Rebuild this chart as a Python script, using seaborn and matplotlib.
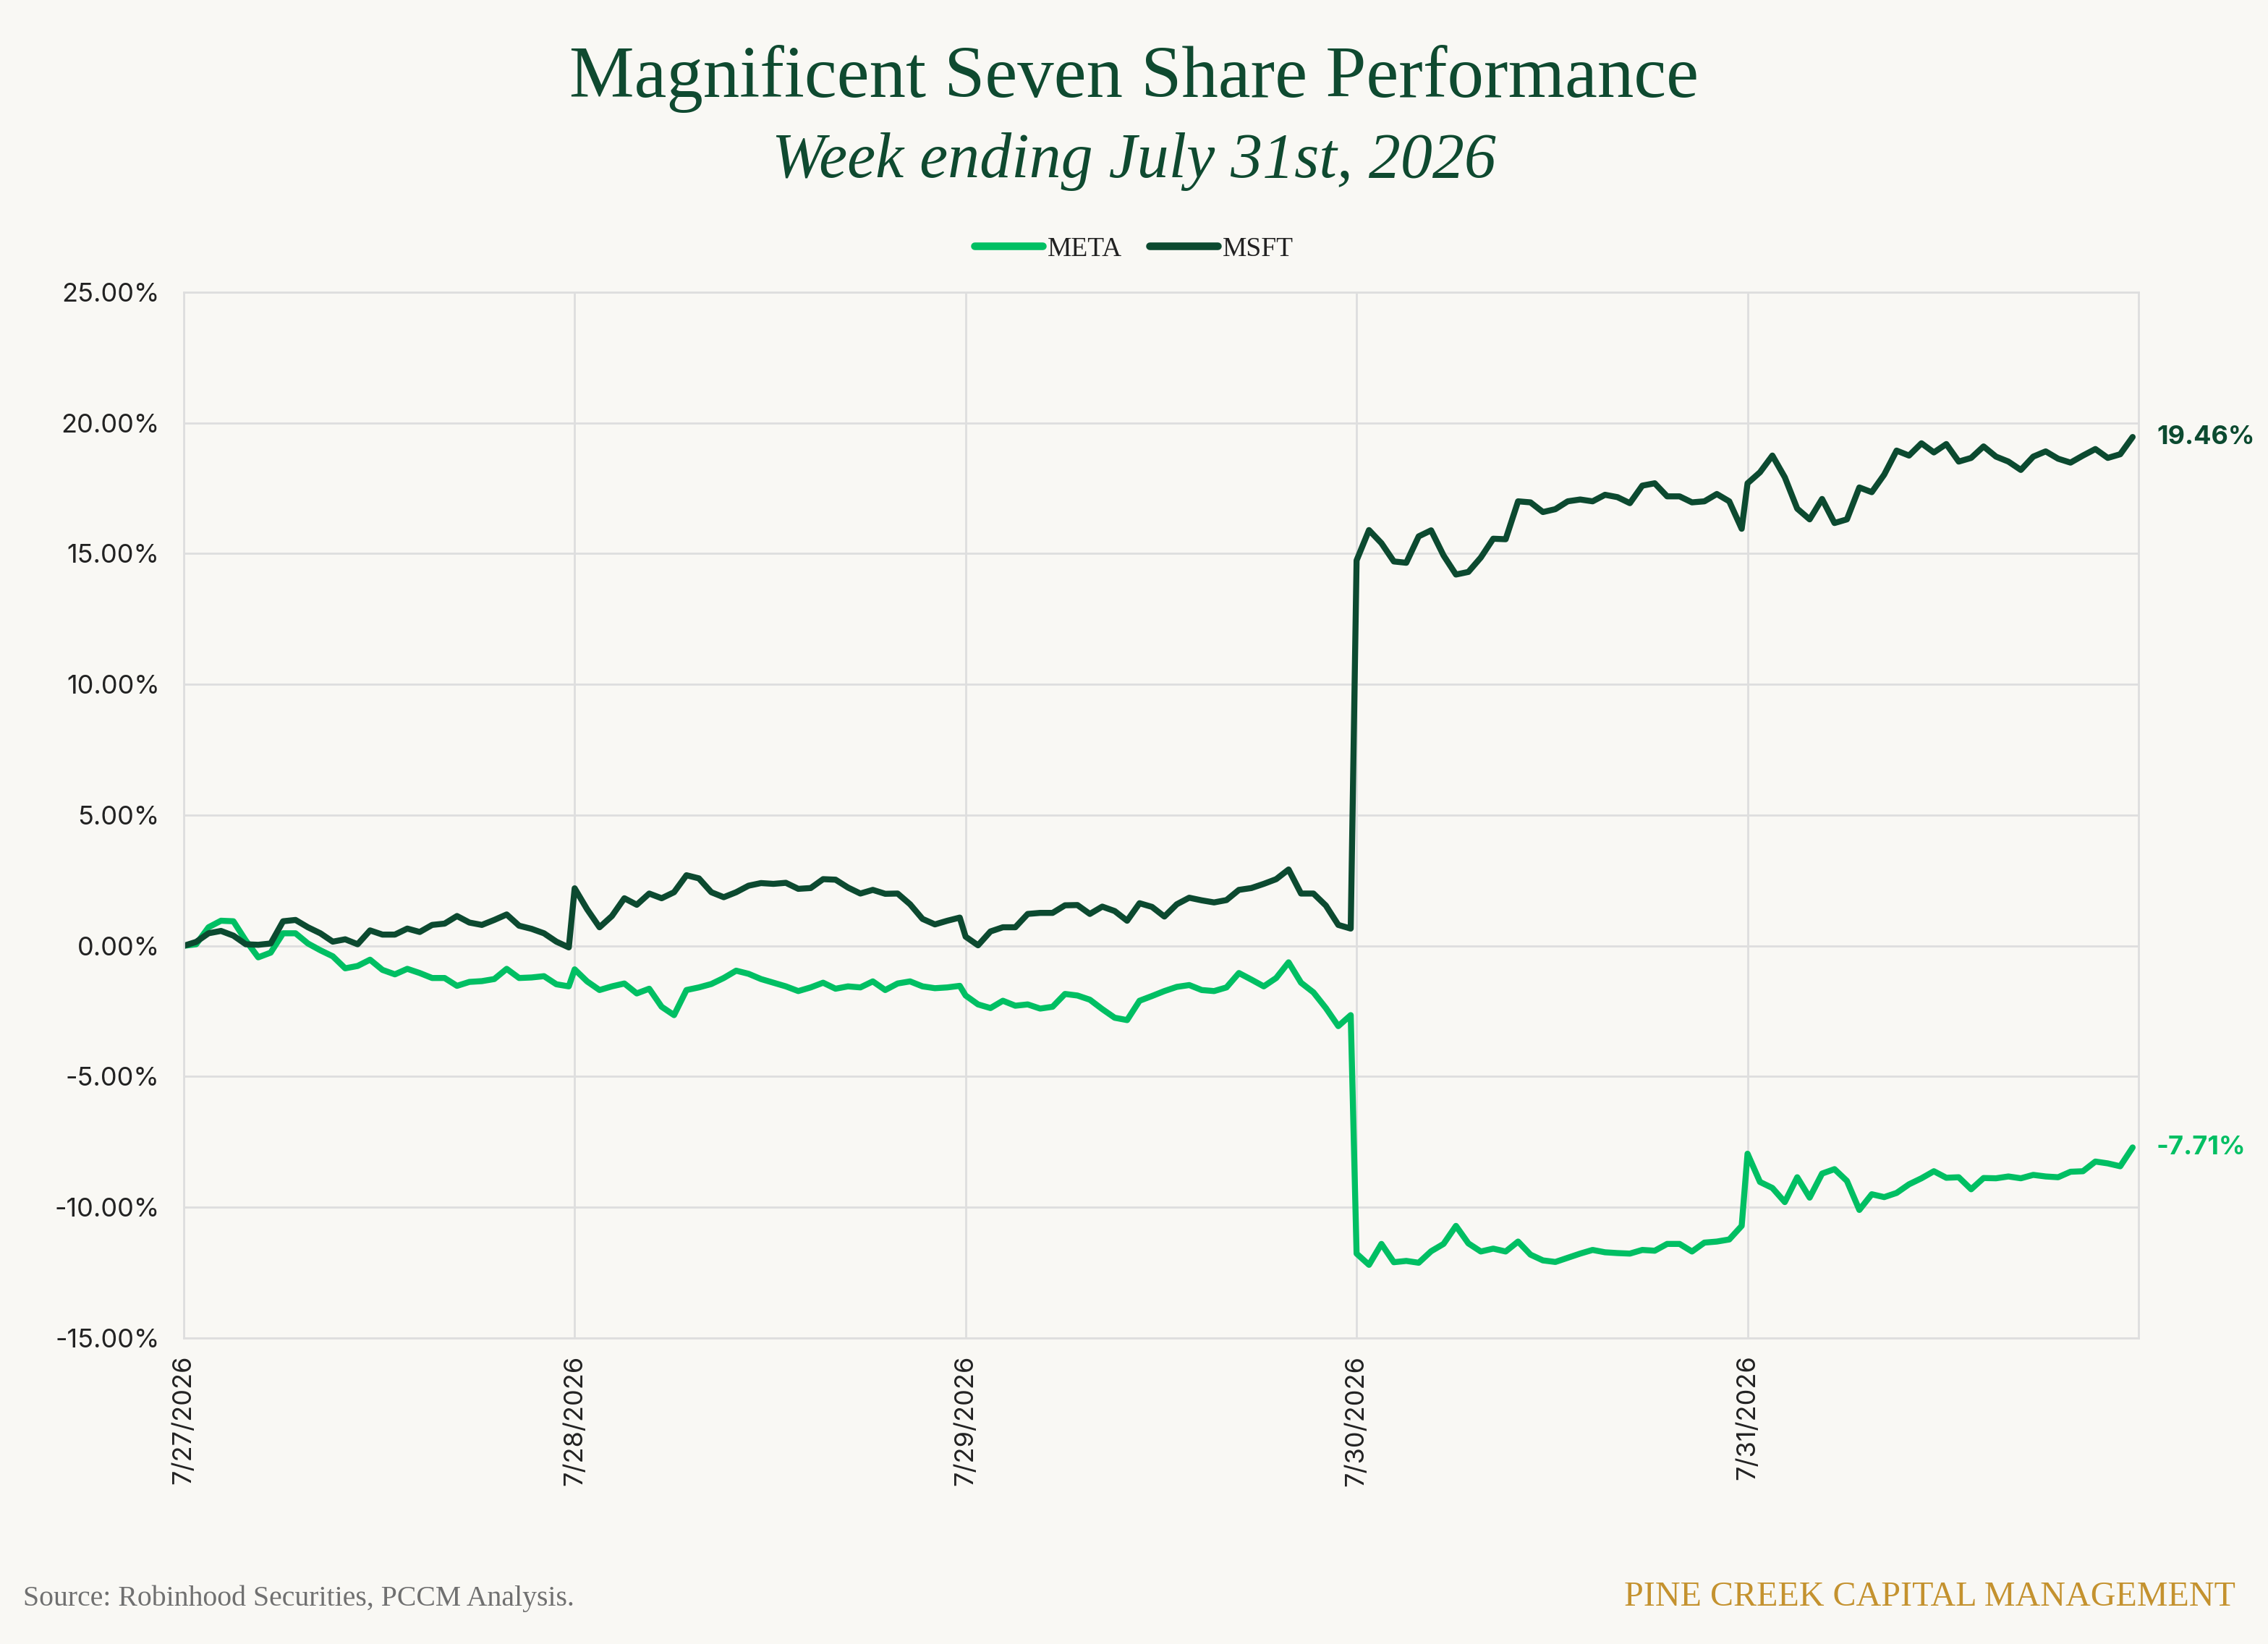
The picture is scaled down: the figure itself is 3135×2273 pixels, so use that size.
import numpy as np
import pandas as pd
import matplotlib.pyplot as plt
import seaborn as sns

# trading days on the x axis
days = ["7/27/2026", "7/28/2026", "7/29/2026", "7/30/2026", "7/31/2026"]

# intraday cumulative return (%), 32 samples per day
meta_0727 = [0.00, 0.06, 0.71, 0.96, 0.94, 0.20, -0.44, -0.26, 0.48, 0.48, 0.09, -0.17, -0.40, -0.86, -0.77, -0.53,
             -0.92, -1.09, -0.88, -1.04, -1.23, -1.23, -1.53, -1.38, -1.35, -1.27, -0.88, -1.23, -1.21, -1.16, -1.47, -1.55]
meta_0728 = [-0.90, -1.36, -1.69, -1.55, -1.44, -1.82, -1.64, -2.33, -2.65, -1.69, -1.59, -1.46, -1.23, -0.95, -1.07, -1.27,
             -1.41, -1.55, -1.73, -1.59, -1.41, -1.64, -1.55, -1.59, -1.36, -1.69, -1.44, -1.36, -1.55, -1.62, -1.59, -1.53]
meta_0729 = [-1.90, -2.24, -2.38, -2.10, -2.29, -2.24, -2.40, -2.33, -1.84, -1.90, -2.06, -2.42, -2.75, -2.84, -2.10, -1.92,
             -1.73, -1.57, -1.50, -1.69, -1.73, -1.59, -1.04, -1.29, -1.55, -1.23, -0.63, -1.41, -1.78, -2.38, -3.07, -2.65]
meta_0730 = [-11.77, -12.20, -11.40, -12.10, -12.05, -12.12, -11.68, -11.40, -10.71, -11.38, -11.69, -11.58, -11.69, -11.31,
             -11.81, -12.03, -12.09, -11.93, -11.77, -11.63, -11.72, -11.75, -11.77, -11.63, -11.66, -11.40, -11.40, -11.69,
             -11.35, -11.31, -11.23, -10.71]
meta_0731 = [-7.95, -9.03, -9.26, -9.80, -8.85, -9.63, -8.71, -8.54, -8.99, -10.10, -9.50, -9.61, -9.45, -9.12, -8.89, -8.62,
             -8.87, -8.85, -9.31, -8.88, -8.89, -8.82, -8.89, -8.76, -8.82, -8.85, -8.64, -8.62, -8.25, -8.32, -8.43, -7.71]

msft_0727 = [0.00, 0.15, 0.48, 0.57, 0.39, 0.06, 0.04, 0.09, 0.94, 0.99, 0.71, 0.48, 0.16, 0.25, 0.06, 0.59,
             0.43, 0.43, 0.66, 0.53, 0.80, 0.85, 1.14, 0.89, 0.80, 0.99, 1.20, 0.77, 0.65, 0.48, 0.16, -0.06]
msft_0728 = [2.20, 1.40, 0.71, 1.14, 1.82, 1.57, 2.00, 1.82, 2.05, 2.70, 2.58, 2.05, 1.86, 2.05, 2.30, 2.40,
             2.37, 2.41, 2.18, 2.21, 2.55, 2.53, 2.23, 2.00, 2.14, 1.99, 2.00, 1.59, 1.03, 0.82, 0.96, 1.08]
msft_0729 = [0.35, 0.02, 0.55, 0.71, 0.71, 1.22, 1.26, 1.26, 1.55, 1.56, 1.22, 1.50, 1.33, 0.96, 1.63, 1.49,
             1.12, 1.59, 1.84, 1.74, 1.66, 1.75, 2.14, 2.21, 2.37, 2.55, 2.92, 2.00, 2.00, 1.54, 0.80, 0.66]
msft_0730 = [14.74, 15.90, 15.40, 14.70, 14.65, 15.66, 15.89, 14.93, 14.20, 14.30, 14.85, 15.57, 15.55, 17.00, 16.96, 16.59,
             16.70, 17.00, 17.07, 17.00, 17.25, 17.16, 16.93, 17.60, 17.69, 17.19, 17.19, 16.96, 17.00, 17.28, 17.00, 15.95]
msft_0731 = [17.69, 18.11, 18.75, 17.92, 16.72, 16.31, 17.09, 16.17, 16.31, 17.53, 17.35, 18.02, 18.94, 18.75, 19.22, 18.87,
             19.19, 18.52, 18.66, 19.10, 18.71, 18.52, 18.20, 18.71, 18.91, 18.63, 18.48, 18.75, 19.00, 18.66, 18.80, 19.46]

series = {
    "META": [meta_0727, meta_0728, meta_0729, meta_0730, meta_0731],
    "MSFT": [msft_0727, msft_0728, msft_0729, msft_0730, msft_0731],
}

rows = []
for ticker, day_lists in series.items():
    for d, vals in enumerate(day_lists):
        frac = np.linspace(0, 0.985, len(vals))  # session position within the day
        for f, v in zip(frac, vals):
            rows.append({"t": d + f, "ticker": ticker, "ret": v})
df = pd.DataFrame(rows)

bg = "#f9f8f4"
colors = {"META": "#00bf63", "MSFT": "#0c4a30"}
title_green = "#0f4a30"
grid_c = "#dedede"

sns.set_theme(style="white")
plt.rcParams["font.family"] = ["Inter", "DejaVu Sans"]

fig = plt.figure(figsize=(15.675, 11.365), dpi=200, facecolor=bg)
ax = fig.add_axes([0.081, 0.1861, 0.8619, 0.6362])
ax.set_facecolor(bg)

sns.lineplot(data=df, x="t", y="ret", hue="ticker", palette=colors, linewidth=3.0, ax=ax)
for ln in ax.get_lines():
    ln.set_solid_joinstyle("round")

handles, labels = ax.get_legend_handles_labels()
ax.get_legend().remove()
leg = fig.legend(handles, labels, loc="center", bbox_to_anchor=(0.5, 0.8485), ncol=2, frameon=False,
                 prop={"family": "Liberation Serif", "size": 13.5}, handlelength=2.5, handletextpad=0.2,
                 columnspacing=1.0)
for h in leg.get_lines():
    h.set_linewidth(3.8)
    h.set_solid_capstyle("round")
for t in leg.get_texts():
    t.set_color("#222222")

ax.set_xlim(0, 5)
ax.set_ylim(-15, 25)
ax.set_xticks(range(len(days)))
ax.set_xticklabels(days, rotation=90)
yt = np.arange(-15, 26, 5)
ax.set_yticks(yt)
ax.set_yticklabels([f"{v:.2f}%" for v in yt])
ax.set_xlabel("")
ax.set_ylabel("")

ax.grid(True, color=grid_c, linewidth=1.0)
ax.set_axisbelow(True)
for s in ax.spines.values():
    s.set_visible(True)
    s.set_color(grid_c)
    s.set_linewidth(1.0)
ax.tick_params(axis="both", length=0, labelsize=13, labelcolor="#222222")
ax.tick_params(axis="y", pad=12)
ax.tick_params(axis="x", pad=8.5)

# end-of-week value labels
for ticker, day_lists in series.items():
    last = day_lists[-1][-1]
    ax.annotate(f"{last:.2f}%", xy=(1, last), xycoords=("axes fraction", "data"),
                xytext=(9, 0), textcoords="offset points", va="center", ha="left",
                fontsize=13, fontweight="bold", color=colors[ticker])

fig.text(0.5, 0.941, "Magnificent Seven Share Performance", ha="center", va="baseline",
         fontsize=36.3, color=title_green, family="Liberation Serif")
fig.text(0.5, 0.892, "Week ending July 31st, 2026", ha="center", va="baseline",
         fontsize=31.7, color=title_green, family="Liberation Serif", style="italic")

fig.text(0.0102, 0.0233, "Source: Robinhood Securities, PCCM Analysis.", ha="left", va="baseline",
         fontsize=14.3, color="#707070", family="Liberation Serif")
fig.text(0.9856, 0.0233, "PINE CREEK CAPITAL MANAGEMENT", ha="right", va="baseline",
         fontsize=17.3, color="#c4922f", family="Liberation Serif")

fig.savefig("out.png", dpi=200, facecolor=bg)
